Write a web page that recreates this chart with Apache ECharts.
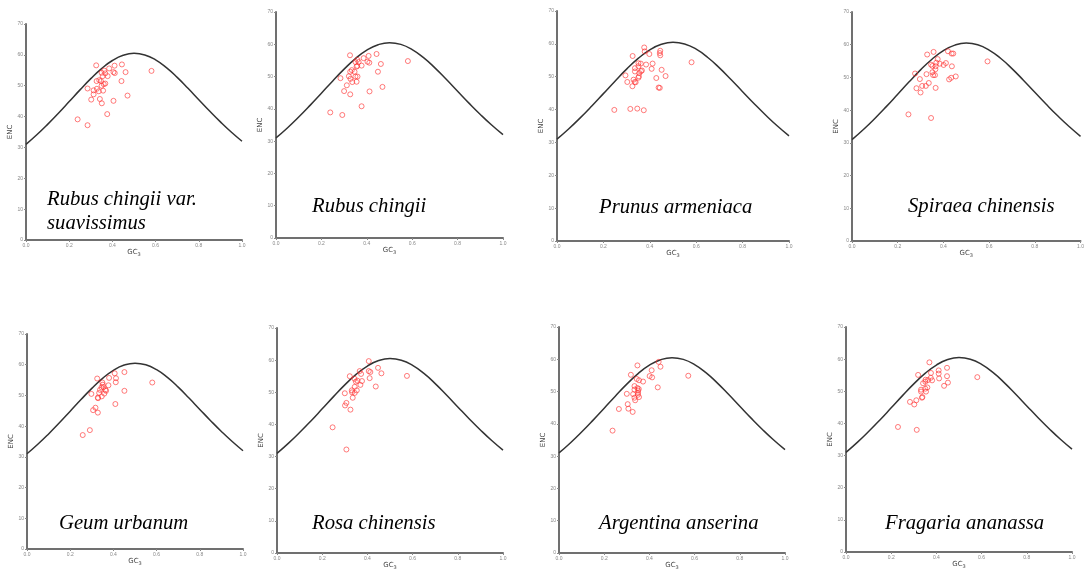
<!DOCTYPE html>
<html>
<head>
<meta charset="utf-8">
<title>ENC plot</title>
<script src="https://cdn.jsdelivr.net/npm/echarts@6/dist/echarts.min.js"></script>
<style>
  html, body { margin: 0; padding: 0; background: #fff; }
  #chart { width: 1087px; height: 572px; }
</style>
</head>
<body>
<div id="chart"></div>
<script>
// axis ticks
const xTicks = [0.0, 0.2, 0.4, 0.6, 0.8, 1.0];
const yTicks = [0, 10, 20, 30, 40, 50, 60, 70];

// expected ENC curve (standard curve, sampled every 0.05)
const curveGC3 = [0, 0.05, 0.1, 0.15, 0.2, 0.25, 0.3, 0.35, 0.4, 0.45, 0.5,
  0.55, 0.6, 0.65, 0.7, 0.75, 0.8, 0.85, 0.9, 0.95, 1.0];
const curveENC = [31.0, 34.09, 37.47, 41.08, 44.85, 48.65, 52.30, 55.56, 58.17, 59.88, 60.5,
  59.98, 58.37, 55.86, 52.7, 49.15, 45.45, 41.78, 38.27, 34.99, 32.0];

// species names (title lines)
const speciesNames = [
  ['Rubus chingii var.', 'suavissimus'],
  ['Rubus chingii'],
  ['Prunus armeniaca'],
  ['Spiraea chinensis'],
  ['Geum urbanum'],
  ['Rosa chinensis'],
  ['Argentina anserina'],
  ['Fragaria ananassa']
];

// [GC3, ENC] points
const rubusVarPts = [[0.325,56.6],[0.444,56.9],[0.410,56.5],[0.385,55.6],[0.350,54.2],[0.362,54.9],
  [0.367,54.0],[0.405,54.4],[0.411,54.1],[0.461,54.4],[0.581,54.8],[0.378,53.1],[0.355,53.1],
  [0.339,51.8],[0.327,51.5],[0.347,51.5],[0.442,51.5],[0.350,50.0],[0.360,50.5],[0.367,50.7],
  [0.285,49.1],[0.328,49.0],[0.313,48.5],[0.337,48.2],[0.357,48.4],[0.313,47.2],[0.470,46.8],
  [0.302,45.5],[0.342,45.7],[0.405,45.1],[0.351,44.3],[0.376,40.8],[0.239,39.1],[0.285,37.2]];
const rubusPts = [[0.326,56.6],[0.443,57.0],[0.408,56.4],[0.386,55.7],[0.358,55.2],[0.350,54.5],
  [0.364,54.5],[0.403,54.6],[0.411,54.3],[0.462,53.9],[0.581,54.8],[0.358,53.3],[0.377,53.4],
  [0.355,53.1],[0.334,52.0],[0.327,51.5],[0.346,51.5],[0.449,51.5],[0.284,49.5],[0.321,50.1],
  [0.350,50.0],[0.359,50.0],[0.328,49.3],[0.336,48.3],[0.355,48.4],[0.312,47.3],[0.469,46.8],
  [0.300,45.5],[0.412,45.4],[0.327,44.5],[0.377,40.8],[0.239,38.9],[0.292,38.1]];
const prunusPts = [[0.376,58.9],[0.378,57.7],[0.445,57.9],[0.443,57.2],[0.445,56.5],[0.398,56.9],
  [0.326,56.3],[0.351,54.1],[0.361,54.0],[0.384,53.7],[0.412,54.0],[0.580,54.4],[0.336,52.6],
  [0.351,53.2],[0.408,52.4],[0.451,52.1],[0.336,51.6],[0.362,51.7],[0.366,51.9],[0.355,51.1],
  [0.295,50.4],[0.353,50.1],[0.468,50.2],[0.351,49.7],[0.428,49.6],[0.330,49.1],[0.303,48.4],
  [0.335,48.4],[0.339,48.3],[0.325,47.1],[0.438,46.7],[0.443,46.6],[0.247,39.9],[0.316,40.2],
  [0.346,40.3],[0.374,39.8]];
const spiraeaPts = [[0.357,57.8],[0.420,58.0],[0.436,57.3],[0.443,57.3],[0.329,57.0],[0.375,55.6],
  [0.369,54.5],[0.346,53.9],[0.352,53.5],[0.366,53.4],[0.384,54.2],[0.401,53.8],[0.411,54.4],
  [0.437,53.4],[0.593,54.9],[0.365,52.5],[0.352,51.6],[0.276,51.2],[0.326,51.0],[0.355,50.7],
  [0.363,50.7],[0.454,50.3],[0.434,49.9],[0.425,49.4],[0.297,49.5],[0.336,48.3],[0.307,47.4],
  [0.323,47.4],[0.282,46.7],[0.366,46.8],[0.300,45.4],[0.247,38.7],[0.346,37.6]];
const geumPts = [[0.325,55.5],[0.406,57.2],[0.451,57.6],[0.380,55.7],[0.412,55.6],[0.349,54.2],
  [0.411,54.3],[0.580,54.2],[0.351,53.5],[0.377,53.3],[0.345,52.6],[0.354,52.7],[0.338,51.8],
  [0.363,51.8],[0.366,51.5],[0.451,51.5],[0.298,50.5],[0.334,50.8],[0.358,50.6],[0.346,49.7],
  [0.328,49.3],[0.329,49.1],[0.409,47.2],[0.317,46.0],[0.306,45.2],[0.328,44.4],[0.291,38.7],
  [0.258,37.1]];
const rosaPts = [[0.406,59.7],[0.447,57.6],[0.366,56.6],[0.406,56.6],[0.413,56.3],[0.372,55.7],
  [0.462,55.9],[0.575,55.1],[0.322,55.0],[0.410,54.4],[0.343,54.2],[0.356,53.6],[0.349,53.3],
  [0.376,53.5],[0.369,52.3],[0.437,51.8],[0.344,51.7],[0.353,50.6],[0.331,50.6],[0.332,50.0],
  [0.300,49.7],[0.344,49.8],[0.335,48.3],[0.307,46.7],[0.301,45.9],[0.325,44.6],[0.246,39.1],
  [0.307,32.2]];
const argentinaPts = [[0.441,59.2],[0.347,58.1],[0.449,57.7],[0.410,56.6],[0.318,55.2],[0.572,54.9],
  [0.401,54.8],[0.412,54.4],[0.344,53.9],[0.354,53.5],[0.372,53.1],[0.334,51.7],[0.437,51.3],
  [0.347,51.1],[0.353,50.8],[0.334,50.6],[0.350,50.3],[0.350,49.6],[0.300,49.3],[0.328,49.2],
  [0.349,49.0],[0.354,48.3],[0.334,48.1],[0.337,47.3],[0.304,46.1],[0.307,44.7],[0.265,44.6],
  [0.326,43.7],[0.237,37.9]];
const fragariaPts = [[0.369,59.0],[0.447,57.3],[0.410,56.5],[0.376,55.7],[0.410,55.5],[0.319,55.1],
  [0.447,54.7],[0.581,54.4],[0.375,54.2],[0.412,54.0],[0.352,53.6],[0.363,53.5],[0.381,53.4],
  [0.351,53.0],[0.341,52.5],[0.451,52.7],[0.434,51.7],[0.360,51.2],[0.351,50.8],[0.332,50.5],
  [0.332,49.9],[0.354,49.9],[0.338,48.2],[0.336,48.0],[0.283,46.7],[0.311,47.2],[0.302,45.9],
  [0.230,38.9],[0.313,38.0]];

const panelPts = [rubusVarPts, rubusPts, prunusPts, spiraeaPts, geumPts, rosaPts, argentinaPts, fragariaPts];

// plot boxes [left, top, width, height] and title anchor [x, baseline]
const boxes = [
  [26, 24, 216, 216], [276, 12, 227, 226], [557, 11, 232, 230], [852, 12, 231, 229],
  [27, 334, 216, 215], [277, 328, 226, 225], [559, 327, 226, 226], [846, 327, 226, 225]
];
const titleAnchors = [[47, 206], [312, 213], [599, 214], [908, 213],
  [59, 530], [312, 530], [599, 530], [885, 530]];

const chart = echarts.init(document.getElementById('chart'));
const curveData = curveGC3.map((x, i) => [x, curveENC[i]]);

let grids = [], xAxes = [], yAxes = [], series = [], graphics = [];
boxes.forEach((b, i) => {
  grids.push({ left: b[0], top: b[1], width: b[2], height: b[3] });
  xAxes.push({
    gridIndex: i, type: 'value', min: xTicks[0], max: xTicks[xTicks.length - 1], interval: 0.2,
    name: 'GC{sub|3}', nameLocation: 'middle', nameGap: 8,
    nameTextStyle: { fontSize: 7, color: '#444', fontFamily: 'DejaVu Sans',
      rich: { sub: { fontSize: 5, color: '#444', verticalAlign: 'bottom', padding: [4, 0, 0, 0] } } },
    axisLine: { lineStyle: { color: '#707070', width: 2 } },
    axisTick: { show: true, length: 2, lineStyle: { color: '#888' } },
    axisLabel: { fontSize: 5, color: '#888', margin: 3, formatter: v => v.toFixed(1) },
    splitLine: { show: false }
  });
  yAxes.push({
    gridIndex: i, type: 'value', min: yTicks[0], max: yTicks[yTicks.length - 1], interval: 10,
    name: 'ENC', nameLocation: 'middle', nameGap: 12, nameRotate: 90,
    nameTextStyle: { fontSize: 7, color: '#444', fontFamily: 'DejaVu Sans' },
    axisLine: { show: true, lineStyle: { color: '#707070', width: 2 } },
    axisTick: { show: true, length: 2, lineStyle: { color: '#888' } },
    axisLabel: { fontSize: 5, color: '#888', margin: 3 },
    splitLine: { show: false }
  });
  series.push({
    type: 'line', xAxisIndex: i, yAxisIndex: i, data: curveData, smooth: true,
    showSymbol: false, lineStyle: { color: '#333', width: 1.5 }, z: 2, silent: true
  });
  series.push({
    type: 'scatter', xAxisIndex: i, yAxisIndex: i, data: panelPts[i],
    symbol: 'circle', symbolSize: 5,
    itemStyle: { color: 'rgba(0,0,0,0)', borderColor: 'rgba(255,50,50,0.8)', borderWidth: 1 },
    z: 3
  });
  // species name, italic serif
  speciesNames[i].forEach((line, k) => {
    graphics.push({
      type: 'text', x: titleAnchors[i][0], y: titleAnchors[i][1] - 7 + k * 24, scaleX: 0.94,
      style: {
        text: line, fontSize: 22, fontStyle: 'italic', fontFamily: 'Liberation Serif',
        fill: '#000', align: 'left', verticalAlign: 'middle'
      }
    });
  });
});

chart.setOption({
  animation: false,
  grid: grids,
  xAxis: xAxes,
  yAxis: yAxes,
  series: series,
  graphic: graphics
});
</script>
</body>
</html>
